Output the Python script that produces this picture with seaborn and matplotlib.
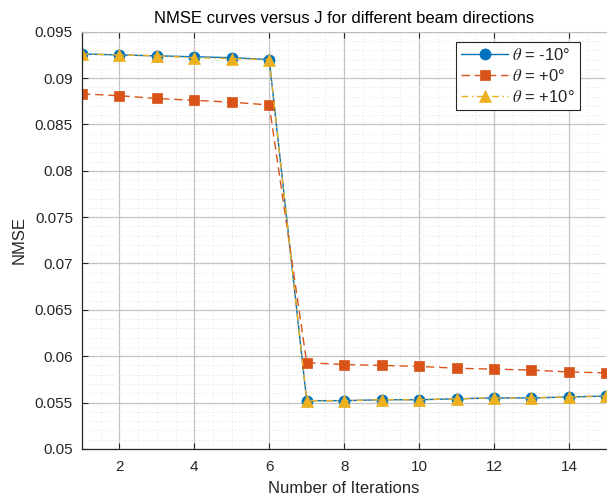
import matplotlib
matplotlib.use("Agg")
import matplotlib.pyplot as plt
import seaborn as sns
import pandas as pd
from matplotlib.ticker import MultipleLocator, FuncFormatter

sns.set_theme(style="white")
plt.rcParams['font.family'] = ['Liberation Sans', 'DejaVu Sans']
plt.rcParams['mathtext.fontset'] = 'stix'

iterations = list(range(1, 16))
nmse_m10 = [0.0926, 0.0925, 0.0924, 0.0923, 0.0922, 0.0920,
            0.0552, 0.0552, 0.0553, 0.0553, 0.0554, 0.0555, 0.0555, 0.0556, 0.0557]
nmse_0 = [0.0883, 0.0881, 0.0878, 0.0876, 0.0874, 0.0871,
          0.0593, 0.0591, 0.0590, 0.0589, 0.0587, 0.0586, 0.0585, 0.0583, 0.0582]
nmse_p10 = [0.0926, 0.0925, 0.0924, 0.0922, 0.0921, 0.0920,
            0.0552, 0.0552, 0.0553, 0.0553, 0.0554, 0.0555, 0.0555, 0.0556, 0.0557]
labels = [r'$\theta$ = -10°', r'$\theta$ = +0°', r'$\theta$ = +10°']

fig = plt.figure(figsize=(6.07, 4.96), dpi=100)
ax = fig.add_axes([0.135, 0.095, 0.864, 0.841])

styles = [
    dict(color='#0072BD', marker='o', linestyle='-', markersize=8),
    dict(color='#D95319', marker='s', linestyle=(0, (6, 3.5)), markersize=7.5),
    dict(color='#EDB120', marker='^', linestyle=(0, (5, 2.5, 1, 2.5)), markersize=8.5),
]
for vals, lab, st in zip([nmse_m10, nmse_0, nmse_p10], labels, styles):
    df = pd.DataFrame({'x': iterations, 'y': vals})
    sns.lineplot(data=df, x='x', y='y', ax=ax, label=lab, linewidth=1.0,
                 markeredgewidth=0.5, markeredgecolor=st['color'], **st)

ax.set_xlim(1, 15)
ax.set_ylim(0.05, 0.095)
ax.xaxis.set_major_locator(MultipleLocator(2))
ax.xaxis.set_minor_locator(MultipleLocator(0.5))
ax.yaxis.set_major_locator(MultipleLocator(0.005))
ax.yaxis.set_minor_locator(MultipleLocator(0.001))
ax.yaxis.set_major_formatter(FuncFormatter(lambda v, p: f'{v:.3f}'.rstrip('0').rstrip('.')))

ax.grid(True, which='major', color='#c4c4c4', linewidth=0.9)
ax.grid(True, which='minor', color='#d8d8d8', linewidth=0.6, linestyle=(0, (1, 3)))
ax.set_axisbelow(True)
ax.tick_params(which='major', direction='in', length=4, width=0.8, colors='#262626',
               labelsize=11, top=True, bottom=True, left=True)
ax.tick_params(axis='x', which='major', pad=8)
ax.tick_params(axis='y', which='major', pad=6.5)
ax.tick_params(which='minor', length=0)
for side in ['left', 'bottom']:
    ax.spines[side].set_color('#262626')
    ax.spines[side].set_linewidth(0.9)
ax.spines['top'].set_color('#bdbdbd')
ax.spines['top'].set_linewidth(0.8)
ax.spines['right'].set_visible(False)

ax.set_xlabel('Number of Iterations', fontsize=12, color='#262626', labelpad=5)
ax.set_ylabel('NMSE', fontsize=12, color='#262626', labelpad=6)
ax.set_title('NMSE curves versus J for different beam directions', fontsize=12,
             color='black', pad=6)

leg = ax.legend(loc='upper right', bbox_to_anchor=(0.959, 0.988), fontsize=12,
                frameon=True, fancybox=False, edgecolor='#262626', framealpha=1,
                handlelength=2.8, handletextpad=0.25, borderpad=0.3, labelspacing=0.3,
                borderaxespad=0.3)
leg.get_frame().set_linewidth(0.8)

fig.savefig('out.png', dpi=100)
